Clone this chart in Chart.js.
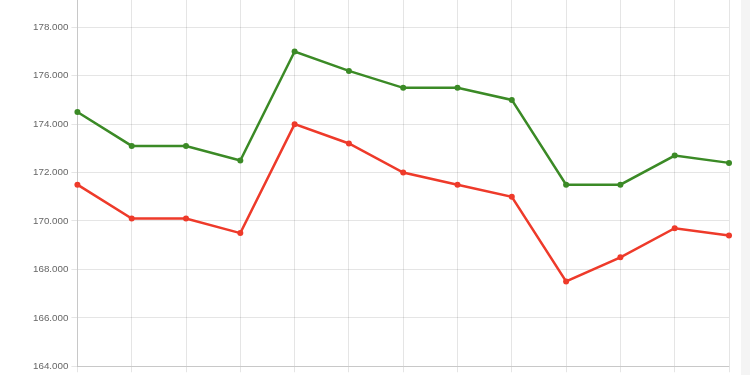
<!DOCTYPE html>
<html>
<head>
<meta charset="utf-8">
<script src="https://cdn.jsdelivr.net/npm/chart.js@4/dist/chart.umd.min.js"></script>
<style>
    html, body { margin: 0; padding: 0; background: #f4f4f4; overflow: hidden; }
    #frame { position: relative; width: 741px; height: 375px; background: #fff; overflow: hidden; }
    #wrap { position: absolute; left: 0; top: -30px; width: 741px; height: 420px; }
</style>
</head>
<body>
<div id="frame">
    <div id="wrap"><canvas id="lineChart"></canvas></div>
</div>
<script>
// categories (x labels sit below the visible crop)
const labels = ['1', '2', '3', '4', '5', '6', '7', '8', '9', '10', '11', '12', '13'];

// series values
const greenValues = [174.5, 173.1, 173.1, 172.5, 177.0, 176.2, 175.5, 175.5, 175.0, 171.5, 171.5, 172.7, 172.4];
const redValues = [171.5, 170.1, 170.1, 169.5, 174.0, 173.2, 172.0, 171.5, 171.0, 167.5, 168.5, 169.7, 169.4];

// y axis range
const yMin = 164;
const yMax = 180;
const yStep = 2;

const GRID = 'rgba(0,0,0,0.1)';
const FONT = { family: 'Liberation Sans, Arial, Helvetica, sans-serif', size: 9.8 };

const ctx = document.getElementById('lineChart').getContext('2d');

new Chart(ctx, {
    type: 'line',
    data: {
        labels: labels,
        datasets: [{
            data: greenValues,
            borderColor: '#3b8a26',
            backgroundColor: '#3b8a26',
            borderWidth: 2.5,
            pointRadius: 3,
            pointBorderWidth: 0,
            tension: 0,
            fill: false
        }, {
            data: redValues,
            borderColor: '#ee3a2a',
            backgroundColor: '#ee3a2a',
            borderWidth: 2.5,
            pointRadius: 3,
            pointBorderWidth: 0,
            tension: 0,
            fill: false
        }]
    },
    options: {
        responsive: true,
        maintainAspectRatio: false,
        animation: false,
        layout: { padding: { left: 30, right: 12, top: 0, bottom: 0 } },
        plugins: {
            legend: { display: false },
            tooltip: { enabled: false }
        },
        scales: {
            x: {
                offset: false,
                grid: { color: GRID, tickLength: 6 },
                border: { color: 'rgba(0,0,0,0.13)' },
                ticks: { color: '#666', font: FONT, maxRotation: 0, padding: 3 }
            },
            y: {
                min: yMin,
                max: yMax,
                grid: { color: GRID, tickLength: 6 },
                border: { color: 'rgba(0,0,0,0.13)' },
                ticks: {
                    stepSize: yStep,
                    color: '#666',
                    font: FONT,
                    padding: 3,
                    callback: v => v.toFixed(3)
                }
            }
        }
    }
});
</script>
</body>
</html>
